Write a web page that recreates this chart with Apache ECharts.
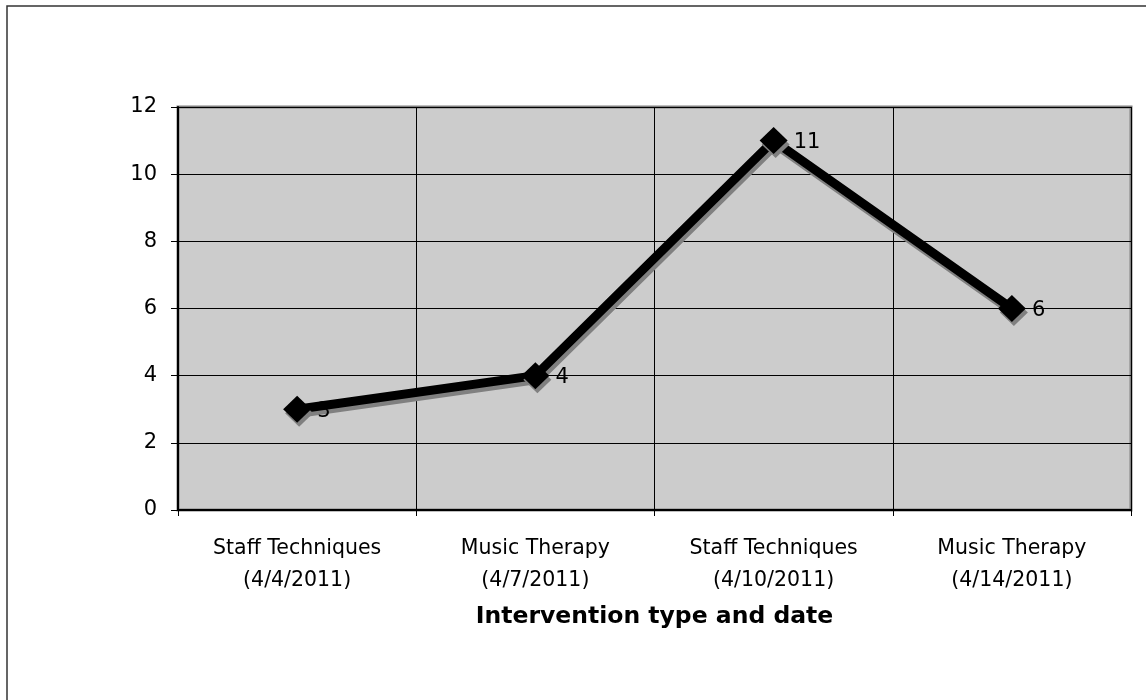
<!DOCTYPE html>
<html>
<head>
<meta charset="utf-8">
<script src="https://cdn.jsdelivr.net/npm/echarts@6/dist/echarts.min.js"></script>
<style>
  html, body { margin: 0; padding: 0; background: #fff; }
  #main { width: 1146px; height: 700px; }
</style>
</head>
<body>
<div id="main"></div>
<script>
// data
var categories = ['Staff Techniques\n(4/4/2011)', 'Music Therapy\n(4/7/2011)', 'Staff Techniques\n(4/10/2011)', 'Music Therapy\n(4/14/2011)'];
var values = [3, 4, 11, 6];
var yTicks = { min: 0, max: 12, interval: 2 };
var axisTitle = 'Intervention type and date';

var myChart = echarts.init(document.getElementById('main'));
var font = 'DejaVu Sans, Verdana, sans-serif';

var option = {
    backgroundColor: '#fff',
    animation: false,
    graphic: [{
        type: 'rect',
        shape: { x: 7, y: 6, width: 1160, height: 720 },
        style: { fill: 'none', stroke: '#333', lineWidth: 1.5 },
        silent: true
    }],
    grid: {
        left: 178, right: 15, top: 107, bottom: 190,
        show: true,
        backgroundColor: '#cccccc',
        borderColor: '#808080',
        borderWidth: 3
    },
    xAxis: {
        type: 'category',
        data: categories,
        boundaryGap: true,
        axisLine: { lineStyle: { color: '#000', width: 2 } },
        axisTick: { show: true, length: 6, lineStyle: { color: '#000' } },
        splitLine: { show: true, lineStyle: { color: '#000', width: 1 } },
        axisLabel: { fontFamily: font, fontSize: 20.5, color: '#000', lineHeight: 32, margin: 23 },
        name: axisTitle,
        nameLocation: 'middle',
        nameGap: 95,
        nameTextStyle: { fontFamily: font, fontSize: 23.5, fontWeight: 'bold', color: '#000' }
    },
    yAxis: {
        type: 'value',
        min: yTicks.min, max: yTicks.max, interval: yTicks.interval,
        axisLine: { show: true, lineStyle: { color: '#000', width: 2 } },
        axisTick: { show: true, length: 7, lineStyle: { color: '#000' } },
        splitLine: { show: true, lineStyle: { color: '#000', width: 1 } },
        axisLabel: { fontFamily: font, fontSize: 21, color: '#000', margin: 21, lineHeight: 28, verticalAlign: 'middle' }
    },
    series: [{
        type: 'line',
        data: values,
        symbol: 'diamond',
        symbolSize: [28, 27],
        showAllSymbol: true,
        lineStyle: {
            color: '#000', width: 9,
            shadowColor: '#808080', shadowBlur: 0, shadowOffsetX: 2, shadowOffsetY: 4
        },
        itemStyle: {
            color: '#000', borderWidth: 0,
            shadowColor: '#808080', shadowBlur: 0, shadowOffsetX: 2, shadowOffsetY: 4
        },
        label: {
            show: true, position: 'right', distance: 6, offset: [0, 2],
            fontFamily: font, fontSize: 21, color: '#000'
        }
    }]
};

myChart.setOption(option);
</script>
</body>
</html>
